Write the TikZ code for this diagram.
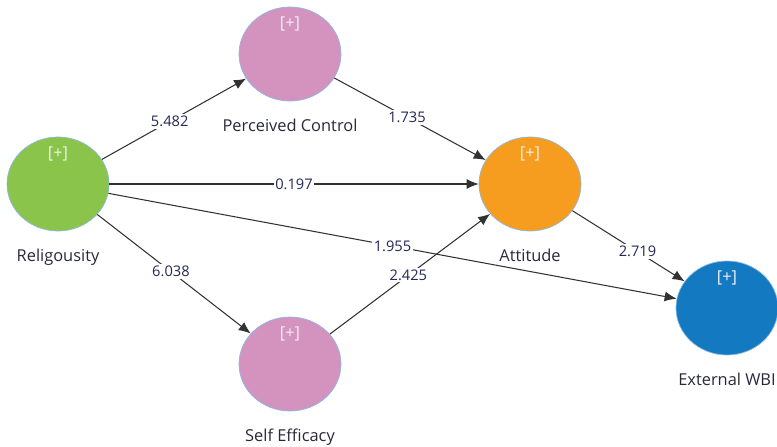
\documentclass[tikz,border=0pt]{standalone}
\usepackage{fontspec}
\setmainfont{Open Sans}
\usetikzlibrary{positioning,shapes.geometric,arrows.meta}
\definecolor{religion}{RGB}{139,196,74}
\definecolor{construct}{RGB}{212,146,190}
\definecolor{attitude}{RGB}{246,157,32}
\definecolor{outcome}{RGB}{19,122,194}
\definecolor{rim}{RGB}{140,185,225}
\definecolor{pathline}{RGB}{50,50,50}
\definecolor{coef}{RGB}{35,40,85}
\definecolor{caption}{RGB}{40,40,60}

\begin{document}
\begin{tikzpicture}[
    x=0.03cm, y=-0.03cm,
    every node/.style={font=\fontsize{14}{16}\selectfont},
    latent/.style={
        ellipse,
        draw=rim,
        line width=0.6pt,
        minimum width=3.06cm,
        minimum height=2.82cm,
        inner sep=0pt
    },
    plus/.style={text=white!88!gray, yshift=0.9cm},
    capt/.style={text=caption, label distance=0.4cm},
    path/.style={draw=pathline, line width=0.9pt, -{Latex[length=3.6mm,width=3mm]}},
    coefl/.style={fill=white, text=coef, inner sep=1.5pt, font=\fontsize{12.5}{14}\selectfont}
]
\useasboundingbox (0,0) rectangle (777,447);

\node[latent, fill=religion,
      label={[plus]center:{[+]}},
      label={[capt]below:Religousity}] (rel) at (58,184) {};
\node[latent, fill=construct,
      label={[plus]center:{[+]}},
      label={[capt]below:Perceived Control}] (pc) at (290,54) {};
\node[latent, fill=construct,
      label={[plus]center:{[+]}},
      label={[capt]below:Self Efficacy}] (se) at (290,364) {};
\node[latent, fill=attitude,
      label={[plus]center:{[+]}},
      label={[capt]below:Attitude}] (att) at (530,184) {};
\node[latent, fill=outcome,
      label={[plus]center:{[+]}},
      label={[capt]below:External WBI}] (wbi) at (727,308) {};

% structural paths
\draw[path] (rel) -- node[coefl, pos=0.47] {5.482} (pc);
\draw[path] (rel) -- node[coefl] {0.197} (att);
\draw[path] (rel) -- node[coefl] {1.955} (wbi);
\draw[path] (rel) -- node[coefl, pos=0.48] {6.038} (se);
\draw[path] (pc) -- node[coefl, pos=0.48] {1.735} (att);
\draw[path] (se) -- node[coefl, pos=0.49] {2.425} (att);
\draw[path] (att) -- node[coefl, pos=0.58] {2.719} (wbi);
\end{tikzpicture}
\end{document}
